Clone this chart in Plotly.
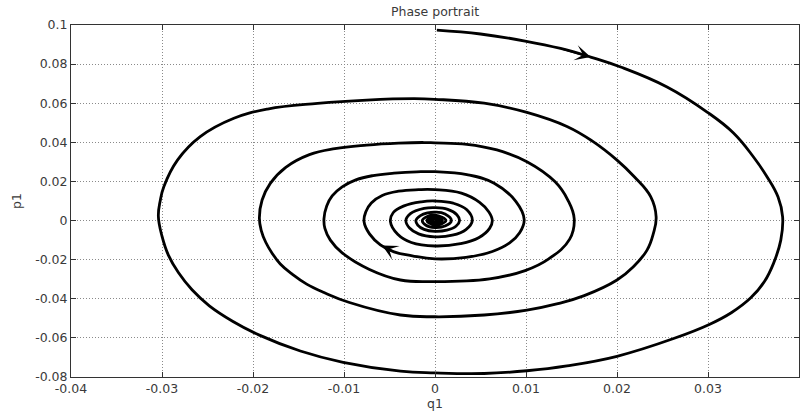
import plotly.graph_objects as go

# Trajectory of (q1, p1), clockwise from the start at the top, spiralling inward
q1 = [
    # first turn
    0.0002, 0.0050, 0.0099, 0.0138, 0.0171, 0.0204, 0.0255, 0.0299, 0.0328, 0.0350,
    0.0365, 0.0377, 0.0382,
    0.0380, 0.0372, 0.0362, 0.0347, 0.0326, 0.0302, 0.0263, 0.0200, 0.0145, 0.0101, 0.0054,
    0.0000, -0.0038,
    -0.0101, -0.0148, -0.0193, -0.0222, -0.0248, -0.0267, -0.0282, -0.0293, -0.0300,
    -0.0304, -0.0302,
    -0.0298, -0.0283, -0.0258, -0.0221, -0.0184, -0.0129, -0.0075, -0.0023, 0.0000,
    # second turn
    0.0054, 0.0101, 0.0145, 0.0173, 0.0200, 0.0219, 0.0237, 0.0243,
    0.0240, 0.0233, 0.0218, 0.0200, 0.0164, 0.0135, 0.0101, 0.0054, 0.0000, -0.0038,
    -0.0094, -0.0122, -0.0141, -0.0157, -0.0170, -0.0179, -0.0186, -0.0191, -0.0193,
    -0.0190, -0.0181, -0.0164, -0.0138, -0.0110, -0.0075, -0.0040, -0.0012, 0.0000,
    # third turn
    0.0035, 0.0068, 0.0101, 0.0132, 0.0146, 0.0153,
    0.0148, 0.0125, 0.0099, 0.0060, 0.0000, -0.0038,
    -0.0072, -0.0102, -0.0115, -0.0121, -0.0122,
    -0.0119, -0.0113, -0.0102, -0.0087, -0.0068, -0.0045, -0.0020, 0.0000,
    # fourth turn
    0.0035, 0.0065, 0.0089, 0.0098,
    0.0093, 0.0082, 0.0063, 0.0034, 0.0000,
    -0.0025, -0.0045, -0.0060, -0.0072, -0.0078,
    -0.0076, -0.0070, -0.0058, -0.0040, -0.0018, 0.0000,
    # fifth turn
    0.0029, 0.0049, 0.0059, 0.0063,
    0.0060, 0.0048, 0.0028, 0.0000,
    -0.0026, -0.0041, -0.0049,
    -0.0046, -0.0034, -0.0015, 0.0000,
    # sixth turn
    0.0020, 0.0035, 0.0041, 0.0034, 0.0019, 0.0000, -0.0018, -0.0028, -0.0032,
    -0.0027, -0.0012, 0.0000,
    # seventh turn
    0.0014, 0.0024, 0.0027, 0.0023, 0.0013, 0.0000, -0.0012, -0.0019, -0.0021,
    -0.0016, -0.0008, 0.0000,
    # innermost turns
    0.0011, 0.0018, 0.0011, 0.0000, -0.0010, -0.0014, -0.0009, 0.0000,
    0.0012, 0.0000, -0.0009, 0.0000,
    0.0008, 0.0000, -0.0006, 0.0000,
    0.0005, 0.0000, -0.0004, 0.0000, 0.0003, 0.0000, -0.0002, 0.0000, 0.0000,
]
p1 = [
    # first turn
    0.0974, 0.0954, 0.0918, 0.0880, 0.0836, 0.0785, 0.0683, 0.0555, 0.0448, 0.0325,
    0.0223, 0.0120, 0.0019,
    -0.0100, -0.0219, -0.0312, -0.0395, -0.0470, -0.0530, -0.0602, -0.0694, -0.0743, -0.0768, -0.0782,
    -0.0779, -0.0770,
    -0.0725, -0.0667, -0.0586, -0.0516, -0.0436, -0.0354, -0.0266, -0.0177, -0.0080,
    0.0022, 0.0100,
    0.0173, 0.0309, 0.0429, 0.0523, 0.0570, 0.0599, 0.0616, 0.0623, 0.0620,
    # second turn
    0.0600, 0.0553, 0.0481, 0.0406, 0.0309, 0.0224, 0.0122, 0.0019,
    -0.0065, -0.0151, -0.0236, -0.0304, -0.0384, -0.0425, -0.0458, -0.0483, -0.0492, -0.0483,
    -0.0419, -0.0368, -0.0325, -0.0274, -0.0222, -0.0167, -0.0111, -0.0050, 0.0013,
    0.0105, 0.0190, 0.0272, 0.0337, 0.0368, 0.0386, 0.0396, 0.0399, 0.0397,
    # third turn
    0.0390, 0.0361, 0.0301, 0.0198, 0.0105, 0.0008,
    -0.0095, -0.0196, -0.0256, -0.0298, -0.0312, -0.0304,
    -0.0250, -0.0165, -0.0100, -0.0040, 0.0010,
    0.0075, 0.0126, 0.0172, 0.0208, 0.0230, 0.0242, 0.0249, 0.0250,
    # fourth turn
    0.0235, 0.0191, 0.0097, 0.0005,
    -0.0062, -0.0114, -0.0158, -0.0188, -0.0196,
    -0.0180, -0.0160, -0.0124, -0.0068, -0.0005,
    0.0045, 0.0090, 0.0128, 0.0150, 0.0158, 0.0158,
    # fifth turn
    0.0140, 0.0093, 0.0045, 0.0000,
    -0.0040, -0.0088, -0.0118, -0.0130,
    -0.0112, -0.0070, -0.0005,
    0.0040, 0.0075, 0.0096, 0.0100,
    # sixth turn
    0.0089, 0.0055, 0.0000, -0.0046, -0.0075, -0.0083, -0.0068, -0.0038, 0.0000,
    0.0035, 0.0062, 0.0066,
    # seventh turn
    0.0057, 0.0030, 0.0000, -0.0029, -0.0049, -0.0055, -0.0045, -0.0023, 0.0000,
    0.0025, 0.0039, 0.0043,
    # innermost turns
    0.0034, 0.0000, -0.0028, -0.0036, -0.0024, 0.0000, 0.0020, 0.0028,
    0.0000, -0.0023, 0.0000, 0.0018,
    0.0000, -0.0015, 0.0000, 0.0012,
    0.0000, -0.0010, 0.0000, 0.0008, 0.0000, -0.0006, 0.0000, 0.0004, 0.0000,
]

# Direction arrows on the trajectory: (tail q, tail p, tip q, tip p)
arrows = [
    (0.0138, 0.0880, 0.0171, 0.0836),
    (-0.0045, -0.0160, -0.0058, -0.0127),
]

x_ticks = [-0.04, -0.03, -0.02, -0.01, 0, 0.01, 0.02, 0.03, 0.04]
x_labels = ["-0.04", "-0.03", "-0.02", "-0.01", "0", "0.01", "0.02", "0.03", "0.04"]
y_ticks = [-0.08, -0.06, -0.04, -0.02, 0, 0.02, 0.04, 0.06, 0.08, 0.1]
y_labels = ["-0.08", "-0.06", "-0.04", "-0.02", "0", "0.02", "0.04", "0.06", "0.08", "0.1"]

FONT = "DejaVu Sans"
TEXT = "#3a3a3a"

fig = go.Figure()
fig.add_trace(go.Scatter(
    x=q1, y=p1, mode="lines",
    line=dict(color="black", width=2.8, shape="spline", smoothing=1.2),
    showlegend=False, hoverinfo="skip",
))

for tq, tp, hq, hp in arrows:
    fig.add_annotation(
        x=hq, y=hp, ax=tq, ay=tp, xref="x", yref="y", axref="x", ayref="y",
        text="", showarrow=True, arrowhead=3, arrowsize=1.3, arrowwidth=2,
        arrowcolor="black",
    )

axis_common = dict(
    showline=True, linecolor="#333333", linewidth=1, mirror="allticks",
    ticks="inside", ticklen=5, tickcolor="#333333", tickwidth=1,
    showgrid=True, gridcolor="#8a8a8a", gridwidth=1, griddash="1px,2px",
    zeroline=False, automargin=False,
    tickfont=dict(family=FONT, size=12.5, color=TEXT),
)

fig.update_xaxes(
    range=[-0.04, 0.04], tickvals=x_ticks, ticktext=x_labels,
    title=dict(text="q1", font=dict(family=FONT, size=12.5, color=TEXT), standoff=2),
    **axis_common,
)
fig.update_yaxes(
    range=[-0.08, 0.1], tickvals=y_ticks, ticktext=y_labels,
    title=dict(text="p1", font=dict(family=FONT, size=12.5, color=TEXT), standoff=10),
    **axis_common,
)

fig.update_layout(
    width=810, height=411,
    margin=dict(l=71, r=11, t=25, b=34),
    paper_bgcolor="white", plot_bgcolor="white",
    title=dict(
        text="Phase portrait", x=0.5, xref="paper", xanchor="center",
        y=1 - 12 / 411, yref="container", yanchor="middle",
        font=dict(family=FONT, size=12.5, color=TEXT),
    ),
)

fig.write_html("out.html")
